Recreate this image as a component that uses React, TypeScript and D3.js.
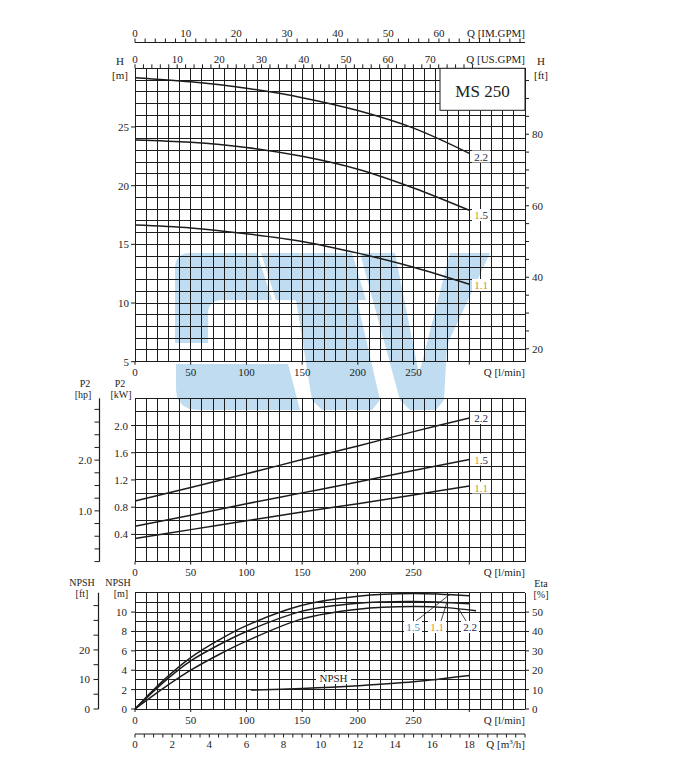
import React from "react";
import * as d3 from "d3";

// ---------- data ----------
const Q_PTS = [0, 50, 100, 150, 200, 250, 300];
const H_22 = [29.2, 28.85, 28.3, 27.5, 26.4, 24.9, 22.75];
const H_15 = [23.9, 23.7, 23.25, 22.5, 21.4, 19.8, 17.9];
const H_11 = [16.65, 16.4, 15.9, 15.25, 14.25, 13.05, 11.6];

const P_22 = [0.89, 1.09, 1.29, 1.5, 1.7, 1.91, 2.11];
const P_15 = [0.52, 0.68, 0.85, 1.01, 1.17, 1.34, 1.5];
const P_11 = [0.34, 0.47, 0.6, 0.73, 0.85, 0.98, 1.11];

const ETA_Q = [0, 25, 50, 75, 100, 150, 200, 250, 300];
const ETA_15 = [0, 14.5, 26.5, 35.5, 43, 53.5, 58.2, 59.6, 58.4];
const ETA_11 = [0, 13.5, 24.8, 33, 40, 50.5, 54.6, 55.4, 54.3];
const ETA_22_Q = [0, 25, 50, 75, 100, 150, 200, 250, 280, 306];
const ETA_22 = [0, 10.5, 20, 28, 35, 46.5, 51.5, 52.9, 52.3, 50.7];

const NPSH_Q = [104, 150, 200, 250, 300];
const NPSH_M = [1.95, 2.12, 2.4, 2.8, 3.45];

const Q_LABELS = [0, 50, 100, 150, 200, 250];
const H_LABELS = [5, 10, 15, 20, 25];
const FT_LABELS = [20, 40, 60, 80];
const KW_LABELS = [0.4, 0.8, 1.2, 1.6, 2.0];
const HP_LABELS = [1.0, 2.0];
const NPSH_LABELS = [0, 2, 4, 6, 8, 10];
const NPSH_FT_LABELS = [0, 10, 20];
const ETA_LABELS = [0, 10, 20, 30, 40, 50];
const IMGPM_LABELS = [0, 10, 20, 30, 40, 50, 60];
const USGPM_LABELS = [0, 10, 20, 30, 40, 50, 60, 70];
const M3H_LABELS = [0, 2, 4, 6, 8, 10, 12, 14, 16, 18];

const MODEL = "MS 250";

// ---------- scales ----------
const x = d3.scaleLinear().domain([0, 350]).range([135, 525]);
const yH = d3.scaleLinear().domain([5, 30]).range([361.7, 68.3]);
const yP = d3.scaleLinear().domain([0, 2.4]).range([561.6, 398.3]);
const yN = d3.scaleLinear().domain([0, 12]).range([709, 592.7]);
const yEta = d3.scaleLinear().domain([0, 60]).range([709, 592.7]);

const FT = 0.3048;
const HP = 0.7457;
const USG = 3.7854;
const IMG = 4.5461;
const M3H = 1000 / 60;

const FONT = "'Liberation Serif', 'Times New Roman', serif";
const INK = "#1c1c1c";

function curvePath(qs: number[], vs: number[], ys: (v: number) => number) {
  const pts: [number, number][] = qs.map((q, i) => [x(q), ys(vs[i])]);
  return d3.line().curve(d3.curveCatmullRom.alpha(0.5))(pts) || "";
}

function Grid({ yTop, yBot, yLines }: { yTop: number; yBot: number; yLines: number[] }) {
  return (
    <g stroke={INK} strokeWidth={1} shapeRendering="crispEdges">
      {d3.range(0, 351, 10).map((q) => (
        <line key={"v" + q} x1={x(q)} x2={x(q)} y1={yTop} y2={yBot} />
      ))}
      {yLines.map((yy, i) => (
        <line key={"h" + i} x1={x(0)} x2={x(350)} y1={yy} y2={yy} />
      ))}
    </g>
  );
}

function Label({ cx, cy, parts }: { cx: number; cy: number; parts: [string, string][] }) {
  return (
    <g>
      <rect x={cx - 9} y={cy - 6} width={18} height={12} fill="white" />
      <text x={cx} y={cy + 4} textAnchor="middle" fontSize={11} fontFamily={FONT}>
        {parts.map(([t, c], i) => (
          <tspan key={i} fill={c}>
            {t}
          </tspan>
        ))}
      </text>
    </g>
  );
}

const NAVY = "#1b1f4a";
const ORANGE = "#e09a22";
const GOLD = "#c99530";
const LBLUE = "#3d86c6";

export default function App() {
  const txt = (props: any, s: string | number, key?: any) => (
    <text key={key} fontFamily={FONT} fontSize={11} fill={INK} {...props}>
      {s}
    </text>
  );

  const xLabels = (baseline: number, tickY: number) => (
    <g>
      {d3.range(0, 301, 50).map((q) => (
        <line key={"t" + q} x1={x(q)} x2={x(q)} y1={tickY} y2={tickY + 3} stroke={INK} />
      ))}
      {Q_LABELS.map((q) => txt({ x: x(q), y: baseline, textAnchor: "middle" }, q, q))}
      {txt({ x: 525, y: baseline, textAnchor: "end" }, "Q [l/min]")}
    </g>
  );

  const wm = "#b4d7ee";

  return (
    <div style={{ position: "absolute", left: 0, top: 0 }}>
      <svg width={677} height={780} style={{ display: "block", background: "white" }}>
        <rect x={0} y={0} width={677} height={780} fill="white" />

        {/* watermark */}
        <g fill={wm} opacity={0.85}>
          <path d="M175,268 Q175,253 190,253 L257,253 L272,300 L222,300 Q208,300 208,314 L208,343 L175,343 Z" />
          <path d="M176,364 L288,364 L300,410 L200,410 Q176,410 176,388 Z" />
          <path d="M261,253 L352,253 L366,300 L276,300 Z" />
          <path d="M296,300 L357,300 L380,400 L372,410 L322,410 L312,400 Z" />
          <path d="M360,253 L395,253 L419,374 L450,253 L490,253 L447,345 L444,400 L436,410 L410,410 L400,400 Z" />
        </g>

        {/* ---------- top flow axes ---------- */}
        <line x1={135} x2={525} y1={42.5} y2={42.5} stroke={INK} strokeWidth={1.2} />
        {d3.range(0, 77, 2).map((g) => (
          <line key={"im" + g} x1={x(g * IMG)} x2={x(g * IMG)} y1={42.5} y2={38.5} stroke={INK} />
        ))}
        {IMGPM_LABELS.map((g) => txt({ x: x(g * IMG), y: 37, textAnchor: "middle" }, g, "iml" + g))}
        {txt({ x: 525, y: 37, textAnchor: "end" }, "Q [IM.GPM]")}

        {d3.range(0, 81, 2).map((g) => (
          <line key={"us" + g} x1={x(g * USG)} x2={x(g * USG)} y1={68.3} y2={64.3} stroke={INK} />
        ))}
        {USGPM_LABELS.map((g) => txt({ x: x(g * USG), y: 63, textAnchor: "middle" }, g, "usl" + g))}
        {txt({ x: 525, y: 63, textAnchor: "end" }, "Q [US.GPM]")}

        {/* ---------- top panel: H ---------- */}
        <Grid yTop={yH(30)} yBot={yH(5)} yLines={d3.range(5, 30.5, 1).map((h) => yH(h))} />
        <rect x={440} y={yH(30)} width={85} height={42} fill="white" stroke={INK} strokeWidth={1} />
        {txt({ x: 482.5, y: 97, textAnchor: "middle", fontSize: 17 }, MODEL)}

        {H_LABELS.map((h) => (
          <g key={"hl" + h}>
            <line x1={131} x2={135} y1={yH(h)} y2={yH(h)} stroke={INK} />
            {txt({ x: 129, y: yH(h) + 4, textAnchor: "end" }, h)}
          </g>
        ))}
        {txt({ x: 120, y: 65, textAnchor: "middle" }, "H")}
        {txt({ x: 120, y: 79, textAnchor: "middle" }, "[m]")}

        {d3.range(20, 96, 5).map((f) => (
          <line key={"ft" + f} x1={525} x2={529} y1={yH(f * FT)} y2={yH(f * FT)} stroke={INK} />
        ))}
        {FT_LABELS.map((f) => txt({ x: 532, y: yH(f * FT) + 4 }, f, "ftl" + f))}
        {txt({ x: 541, y: 65, textAnchor: "middle" }, "H")}
        {txt({ x: 541, y: 79, textAnchor: "middle" }, "[ft]")}

        <g fill="none" stroke={INK} strokeWidth={1.5}>
          <path d={curvePath(Q_PTS, H_22, yH)} />
          <path d={curvePath(Q_PTS, H_15, yH)} />
          <path d={curvePath(Q_PTS, H_11, yH)} />
        </g>
        <Label cx={481} cy={156.5} parts={[["2.2", NAVY]]} />
        <Label cx={481} cy={215} parts={[["1", ORANGE], [".5", NAVY]]} />
        <Label cx={481} cy={285} parts={[["1.1", GOLD]]} />
        {xLabels(375.5, yH(5))}

        {/* ---------- middle panel: P2 ---------- */}
        <Grid yTop={yP(2.4)} yBot={yP(0)} yLines={d3.range(0, 2.41, 0.2).map((p) => yP(p))} />
        {KW_LABELS.map((p) => (
          <g key={"kw" + p}>
            <line x1={131} x2={135} y1={yP(p)} y2={yP(p)} stroke={INK} />
            {txt({ x: 128, y: yP(p) + 4, textAnchor: "end" }, p.toFixed(1))}
          </g>
        ))}
        {txt({ x: 120, y: 387, textAnchor: "middle", fontSize: 10 }, "P2")}
        {txt({ x: 121, y: 398, textAnchor: "middle", fontSize: 10 }, "[kW]")}

        <line x1={99.5} x2={99.5} y1={yP(2.4)} y2={yP(0)} stroke={INK} strokeWidth={1.2} />
        {d3.range(0, 3.01, 0.25).map((h) => (
          <line key={"hp" + h} x1={94.5} x2={99.5} y1={yP(h * HP)} y2={yP(h * HP)} stroke={INK} />
        ))}
        {HP_LABELS.map((h) => txt({ x: 92, y: yP(h * HP) + 4, textAnchor: "end" }, h.toFixed(1), "hpl" + h))}
        {txt({ x: 85, y: 387, textAnchor: "middle", fontSize: 10 }, "P2")}
        {txt({ x: 83, y: 398, textAnchor: "middle", fontSize: 10 }, "[hp]")}

        <g fill="none" stroke={INK} strokeWidth={1.5}>
          <path d={curvePath(Q_PTS, P_22, yP)} />
          <path d={curvePath(Q_PTS, P_15, yP)} />
          <path d={curvePath(Q_PTS, P_11, yP)} />
        </g>
        <Label cx={481} cy={418} parts={[["2.2", NAVY]]} />
        <Label cx={481} cy={459.5} parts={[["1", ORANGE], [".5", NAVY]]} />
        <Label cx={481} cy={487.5} parts={[["1.1", GOLD]]} />
        {xLabels(575.5, yP(0))}

        {/* ---------- bottom panel: NPSH / Eta ---------- */}
        <Grid yTop={yN(12)} yBot={yN(0)} yLines={d3.range(0, 12.5, 1).map((n) => yN(n))} />
        {NPSH_LABELS.map((n) => (
          <g key={"np" + n}>
            <line x1={131} x2={135} y1={yN(n)} y2={yN(n)} stroke={INK} />
            {txt({ x: 127, y: yN(n) + 4, textAnchor: "end" }, n)}
          </g>
        ))}
        {txt({ x: 118, y: 586, textAnchor: "middle", fontSize: 10 }, "NPSH")}
        {txt({ x: 121, y: 597, textAnchor: "middle", fontSize: 10 }, "[m]")}

        <line x1={98.5} x2={98.5} y1={yN(12)} y2={yN(0)} stroke={INK} strokeWidth={1.2} />
        {d3.range(0, 36, 5).map((f) => (
          <line key={"nft" + f} x1={93.5} x2={98.5} y1={yN(f * FT)} y2={yN(f * FT)} stroke={INK} />
        ))}
        {NPSH_FT_LABELS.map((f) => txt({ x: 90, y: yN(f * FT) + 4, textAnchor: "end" }, f, "nftl" + f))}
        {txt({ x: 82, y: 586, textAnchor: "middle", fontSize: 10 }, "NPSH")}
        {txt({ x: 82, y: 597, textAnchor: "middle", fontSize: 10 }, "[ft]")}

        {ETA_LABELS.map((e) => (
          <g key={"eta" + e}>
            <line x1={525} x2={529} y1={yEta(e)} y2={yEta(e)} stroke={INK} />
            {txt({ x: 532, y: yEta(e) + 4 }, e)}
          </g>
        ))}
        {txt({ x: 541, y: 587, textAnchor: "middle", fontSize: 10 }, "Eta")}
        {txt({ x: 541, y: 598, textAnchor: "middle", fontSize: 10 }, "[%]")}

        <g fill="none" stroke={INK} strokeWidth={1.5}>
          <path d={curvePath(ETA_Q, ETA_15, yEta)} />
          <path d={curvePath(ETA_Q, ETA_11, yEta)} />
          <path d={curvePath(ETA_22_Q, ETA_22, yEta)} />
          <path d={curvePath(NPSH_Q, NPSH_M, yN)} />
        </g>
        {/* leaders */}
        <g stroke={INK} strokeWidth={0.8}>
          <line x1={416} y1={621} x2={x(283)} y2={yEta(59.3)} />
          <line x1={441} y1={621} x2={x(280)} y2={yEta(55.2)} />
          <line x1={466} y1={621} x2={x(290)} y2={yEta(52.1)} />
        </g>
        <Label cx={413} cy={627} parts={[["1", LBLUE], [".5", LBLUE]]} />
        <Label cx={437} cy={627} parts={[["1", ORANGE], [".", LBLUE], ["1", ORANGE]]} />
        <Label cx={470} cy={627} parts={[["2.2", NAVY]]} />
        <rect x={316} y={672} width={35} height={12} fill="white" />
        {txt({ x: 333.5, y: 682, textAnchor: "middle" }, "NPSH")}
        {xLabels(724, yN(0))}

        {/* m3/h axis */}
        <line x1={135} x2={525} y1={734} y2={734} stroke={INK} strokeWidth={1.2} />
        {d3.range(0, 21.01, 0.5).map((m) => (
          <line key={"m3" + m} x1={x(m * M3H)} x2={x(m * M3H)} y1={734} y2={737.5} stroke={INK} />
        ))}
        {M3H_LABELS.map((m) => txt({ x: x(m * M3H), y: 748, textAnchor: "middle" }, m, "m3l" + m))}
        <text x={525} y={748} textAnchor="end" fontFamily={FONT} fontSize={11} fill={INK}>
          Q [m<tspan fontSize={7} dy={-4}>3</tspan>
          <tspan dy={4}>/h]</tspan>
        </text>
      </svg>
    </div>
  );
}
